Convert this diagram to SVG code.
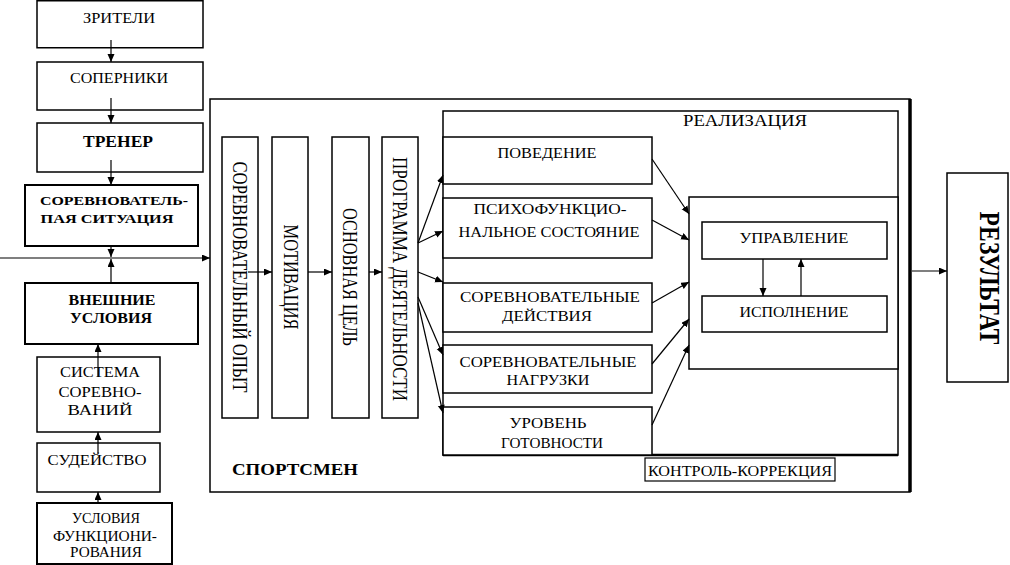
<svg xmlns="http://www.w3.org/2000/svg" width="1010" height="565" viewBox="0 0 1010 565">
<defs>
<marker id="ah" markerUnits="userSpaceOnUse" markerWidth="9" markerHeight="8" refX="8" refY="3.5" orient="auto">
<path d="M0,0 L8,3.5 L0,7 z" fill="#000"/>
</marker>
<style>
rect{fill:#fff;stroke:#000;stroke-width:1.5}
.t{font-family:'Liberation Serif','DejaVu Serif','Times New Roman',serif;font-size:14px;fill:#000;text-anchor:middle}
.b{font-weight:bold}
.v{font-size:20px}
#connectors line{stroke:#000;stroke-width:1.2;fill:none}
.a{marker-end:url(#ah)}
</style>
</defs>
<rect x="0" y="0" width="1010" height="565" style="fill:#fff;stroke:none"/>

<g id="sportsmen">
<rect x="210" y="99" width="700" height="393"/>
<line x1="910" y1="99" x2="910" y2="492" stroke="#000" stroke-width="3.5"/>
<text class="t b" x="295" y="475" font-family="Liberation Serif, DejaVu Serif, serif" style="font-size:16px" textLength="126" lengthAdjust="spacingAndGlyphs">СПОРТСМЕН</text>
</g>

<g id="realizaciya">
<rect x="443" y="111" width="455" height="344"/>
<line x1="443" y1="455" x2="898" y2="455" stroke="#000" stroke-width="2.5"/>
<text class="t" x="745" y="126" style="font-size:16px" textLength="124" lengthAdjust="spacingAndGlyphs">РЕАЛИЗАЦИЯ</text>
</g>

<g id="zriteli"><rect x="37" y="0.75" width="166" height="47"/><text class="t" x="119" y="23" textLength="72" lengthAdjust="spacingAndGlyphs">ЗРИТЕЛИ</text></g>
<g id="soperniki"><rect x="37" y="62" width="166" height="48"/><text class="t" x="119" y="83" textLength="98" lengthAdjust="spacingAndGlyphs">СОПЕРНИКИ</text></g>
<g id="trener"><rect x="37" y="123" width="166" height="49"/><text class="t b" x="118" y="147" style="font-size:17px" textLength="70" lengthAdjust="spacingAndGlyphs">ТРЕНЕР</text></g>
<g id="sorevsit"><rect x="25" y="185" width="173" height="61" style="stroke-width:2"/>
<text class="t b" x="114" y="205" style="font-size:13px" textLength="148" lengthAdjust="spacingAndGlyphs">СОРЕВНОВАТЕЛЬ-</text>
<text class="t b" x="107" y="223" style="font-size:13px" textLength="133" lengthAdjust="spacingAndGlyphs">ПАЯ СИТУАЦИЯ</text></g>
<g id="vneshnie"><rect x="25" y="283" width="173" height="61" style="stroke-width:2"/>
<text class="t b" x="112" y="305" style="font-size:15px" textLength="87" lengthAdjust="spacingAndGlyphs">ВНЕШНИЕ</text>
<text class="t b" x="111" y="323" style="font-size:15px" textLength="82" lengthAdjust="spacingAndGlyphs">УСЛОВИЯ</text></g>
<g id="sistema"><rect x="37" y="357" width="123" height="75"/>
<text class="t" x="100" y="377" textLength="80" lengthAdjust="spacingAndGlyphs">СИСТЕМА</text>
<text class="t" x="100" y="397" textLength="83" lengthAdjust="spacingAndGlyphs">СОРЕВНО-</text>
<text class="t" x="100" y="415" textLength="65" lengthAdjust="spacingAndGlyphs">ВАНИЙ</text></g>
<g id="sudeistvo"><rect x="37" y="443" width="123" height="49"/>
<text class="t" x="97" y="465" textLength="99" lengthAdjust="spacingAndGlyphs">СУДЕЙСТВО</text></g>
<g id="usloviya"><rect x="37" y="503" width="135" height="61" style="stroke-width:2"/>
<text class="t" x="106" y="523" textLength="68" lengthAdjust="spacingAndGlyphs">УСЛОВИЯ</text>
<text class="t" x="105" y="541" textLength="104" lengthAdjust="spacingAndGlyphs">ФУНКЦИОНИ-</text>
<text class="t" x="106" y="557" textLength="72" lengthAdjust="spacingAndGlyphs">РОВАНИЯ</text></g>

<g id="opyt"><rect x="222" y="137" width="36" height="281"/>
<text class="t v" transform="translate(233,277) rotate(90)" textLength="231" lengthAdjust="spacingAndGlyphs">СОРЕВНОВАТЕЛЬНЫЙ ОПЫТ</text></g>
<g id="motivaciya"><rect x="272" y="137" width="36" height="281"/>
<text class="t v" transform="translate(284,277) rotate(90)" textLength="105" lengthAdjust="spacingAndGlyphs">МОТИВАЦИЯ</text></g>
<g id="cel"><rect x="332" y="137" width="37" height="281"/>
<text class="t v" transform="translate(343,277) rotate(90)" textLength="138" lengthAdjust="spacingAndGlyphs">ОСНОВНАЯ ЦЕЛЬ</text></g>
<g id="programma"><rect x="382" y="137" width="36" height="281"/>
<text class="t v" transform="translate(393,279) rotate(90)" textLength="244" lengthAdjust="spacingAndGlyphs">ПРОГРАММА ДЕЯТЕЛЬНОСТИ</text></g>

<g id="povedenie"><rect x="443" y="137" width="209" height="47"/>
<text class="t" x="547" y="158" textLength="99" lengthAdjust="spacingAndGlyphs">ПОВЕДЕНИЕ</text></g>
<g id="psiho"><rect x="443" y="198" width="209" height="60"/>
<text class="t" x="550" y="214" textLength="153" lengthAdjust="spacingAndGlyphs">ПСИХОФУНКЦИО-</text>
<text class="t" x="549" y="237" textLength="181" lengthAdjust="spacingAndGlyphs">НАЛЬНОЕ СОСТОЯНИЕ</text></g>
<g id="deistviya"><rect x="443" y="283" width="209" height="49"/>
<text class="t" x="550" y="302" textLength="180" lengthAdjust="spacingAndGlyphs">СОРЕВНОВАТЕЛЬНЫЕ</text>
<text class="t" x="547" y="321" textLength="90" lengthAdjust="spacingAndGlyphs">ДЕЙСТВИЯ</text></g>
<g id="nagruzki"><rect x="443" y="345" width="209" height="48"/>
<text class="t" x="548" y="367" textLength="177" lengthAdjust="spacingAndGlyphs">СОРЕВНОВАТЕЛЬНЫЕ</text>
<text class="t" x="548" y="385" textLength="83" lengthAdjust="spacingAndGlyphs">НАГРУЗКИ</text></g>
<g id="uroven"><rect x="443" y="407" width="209" height="48"/>
<text class="t" x="548" y="428" textLength="77" lengthAdjust="spacingAndGlyphs">УРОВЕНЬ</text>
<text class="t" x="552" y="448" textLength="102" lengthAdjust="spacingAndGlyphs">ГОТОВНОСТИ</text></g>

<g id="upr-isp"><rect x="689" y="197" width="209" height="172"/></g>
<g id="upravlenie"><rect x="702" y="222" width="185" height="37"/>
<text class="t" x="794" y="243" textLength="109" lengthAdjust="spacingAndGlyphs">УПРАВЛЕНИЕ</text></g>
<g id="ispolnenie"><rect x="702" y="296" width="185" height="36"/>
<text class="t" x="794" y="317" textLength="109" lengthAdjust="spacingAndGlyphs">ИСПОЛНЕНИЕ</text></g>

<g id="kontrol"><rect x="645" y="458" width="190" height="23" style="stroke-width:1.2"/>
<text class="t" x="740" y="476" textLength="184" lengthAdjust="spacingAndGlyphs">КОНТРОЛЬ-КОРРЕКЦИЯ</text></g>

<g id="rezultat"><rect x="947" y="173" width="61" height="209"/>
<text class="t b" transform="translate(980,278) rotate(90)" style="font-size:30px" textLength="133" lengthAdjust="spacingAndGlyphs">РЕЗУЛЬТАТ</text></g>

<g id="connectors">
<line class="a" x1="111" y1="40" x2="111" y2="62"/>
<line class="a" x1="111" y1="98" x2="111" y2="123"/>
<line class="a" x1="111" y1="160" x2="111" y2="185"/>
<line class="a" x1="111" y1="246" x2="111" y2="257"/>
<line class="a" x1="111" y1="283" x2="111" y2="259"/>
<line class="a" x1="0" y1="258" x2="210" y2="258"/>
<line class="a" x1="98" y1="377" x2="98" y2="344"/>
<line class="a" x1="98" y1="453" x2="98" y2="432"/>
<line class="a" x1="98" y1="503" x2="98" y2="492"/>

<line class="a" x1="248" y1="272" x2="272" y2="272"/>
<line class="a" x1="308" y1="272" x2="332" y2="272"/>
<line class="a" x1="369" y1="272" x2="382" y2="272"/>

<line class="a" x1="418" y1="243" x2="443" y2="175"/>
<line class="a" x1="418" y1="243" x2="443" y2="231"/>
<line class="a" x1="418" y1="272" x2="443" y2="282"/>
<line class="a" x1="418" y1="297" x2="443" y2="355"/>
<line class="a" x1="418" y1="303" x2="443" y2="413"/>

<line class="a" x1="652" y1="159" x2="689" y2="214"/>
<line class="a" x1="652" y1="220" x2="689" y2="240"/>
<line class="a" x1="652" y1="303" x2="689" y2="282"/>
<line class="a" x1="652" y1="364" x2="689" y2="319"/>
<line class="a" x1="652" y1="425" x2="689" y2="345"/>

<line class="a" x1="763" y1="259" x2="763" y2="296"/>
<line class="a" x1="801" y1="296" x2="801" y2="259"/>

<line class="a" x1="912" y1="271" x2="947" y2="271"/>
</g>
</svg>
